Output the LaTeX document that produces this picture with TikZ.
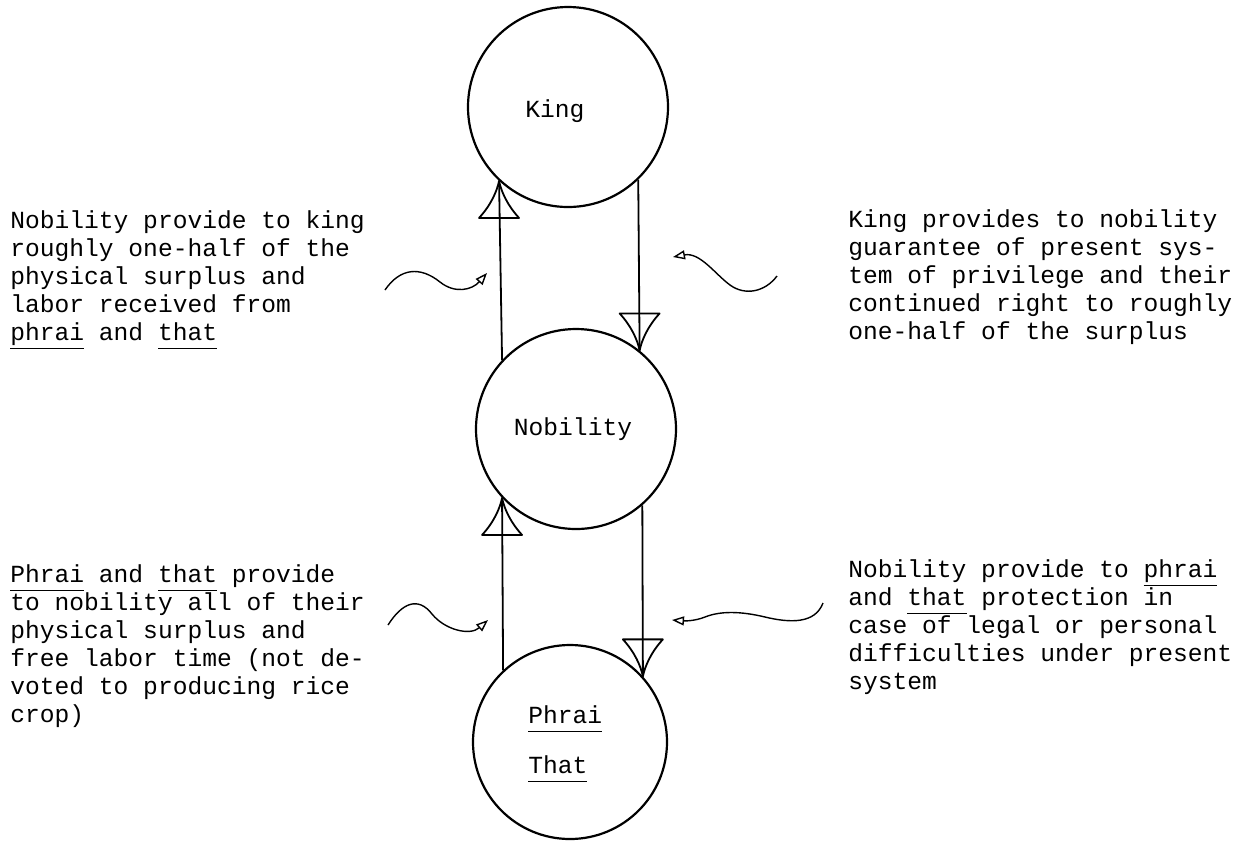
\documentclass[tikz,border=0pt]{standalone}
\usepackage{fontspec}
\setmainfont{Liberation Mono}
\usetikzlibrary{arrows.meta}
\newcommand\myul[1]{\setbox0\hbox{#1}\rlap{\rule[-4.5pt]{\wd0}{0.6pt}}\box0\relax}
\tikzset{
  circ/.style={circle, draw, line width=1.1pt, minimum size=100pt, inner sep=0pt},
  lbl/.style={inner sep=0pt, font=\fontsize{12.3}{14}\selectfont},
  flow/.style={line width=0.9pt},
  wavy/.style={line width=0.7pt, -{Triangle[open,length=6pt,width=4.5pt]}},
  funnel/.pic={\draw[line width=0.9pt, line join=round] (-20,-37) -- (20,-37) .. controls (8,-24) and (2,-10) .. (0,0) .. controls (-2,-10) and (-8,-24) .. (-20,-37) -- cycle;}
}
\begin{document}
\begin{tikzpicture}[x=0.5pt,y=-0.5pt]
\useasboundingbox (0,0) rectangle (1255,843);
% circles
\node[circ] (king) at (568,107) {};
\node[circ] (nob) at (576,429) {};
\node[circ, minimum size=97pt] (pt) at (570,742) {};
% circle texts
\node[lbl, anchor=base west] (kingtxt) at (525,117) {King};
\node[lbl, anchor=base] (nobtxt) at (573,435) {Nobility};
\node[lbl, anchor=base west] (phraitxt) at (528,723) {\myul{Phrai}};
\node[lbl, anchor=base west] (thattxt) at (528,773) {\myul{That}};
% flows
\draw[flow] (nob.137.7) -- (king.227.2);
\pic[rotate=180] at (king.227.2) {funnel};
\draw[flow] (king.314.4) -- (nob.51.7);
\pic at (nob.51.7) {funnel};
\draw[flow] (pt.133.6) -- (nob.223.1);
\pic[rotate=180] at (nob.223.1) {funnel};
\draw[flow] (nob.311.3) -- (pt.42.1);
\pic at (pt.42.1) {funnel};
% text blocks
\node[lbl, anchor=base west] (t1) at (10,228) {\vtop{%
  \hbox{Nobility provide to king}
  \hbox{roughly one-half of the}
  \hbox{physical surplus and}
  \hbox{labor received from}
  \hbox{\myul{phrai} and \myul{that}}}};
\node[lbl, anchor=base west] (t2) at (848,227) {\vtop{%
  \hbox{King provides to nobility}
  \hbox{guarantee of present sys-}
  \hbox{tem of privilege and their}
  \hbox{continued right to roughly}
  \hbox{one-half of the surplus}}};
\node[lbl, anchor=base west] (t3) at (10,582) {\vtop{%
  \hbox{\myul{Phrai} and \myul{that} provide}
  \hbox{to nobility all of their}
  \hbox{physical surplus and}
  \hbox{free labor time (not de-}
  \hbox{voted to producing rice}
  \hbox{crop)}}};
\node[lbl, anchor=base west] (t4) at (848,577) {\vtop{%
  \hbox{Nobility provide to \myul{phrai}}
  \hbox{and \myul{that} protection in}
  \hbox{case of legal or personal}
  \hbox{difficulties under present}
  \hbox{system}}};
% wavy pointers
\coordinate (w1s) at (385,290); \coordinate (w1e) at (487,273);
\draw[wavy] (w1s) .. controls (400,268) and (420,266) .. (440,282) .. controls (455,294) and (472,290) .. (w1e);
\coordinate (w2s) at (777,276); \coordinate (w2e) at (673,257);
\draw[wavy] (w2s) .. controls (765,292) and (745,296) .. (730,285) .. controls (715,274) and (700,252) .. (w2e);
\coordinate (w3s) at (388,625); \coordinate (w3e) at (488,620);
\draw[wavy] (w3s) .. controls (402,603) and (418,596) .. (432,614) .. controls (445,630) and (470,636) .. (w3e);
\coordinate (w4s) at (823,603); \coordinate (w4e) at (672,620);
\draw[wavy] (w4s) .. controls (815,624) and (790,623) .. (765,617) .. controls (740,611) and (720,611) .. (705,617) .. controls (695,621) and (685,621) .. (w4e);
\end{tikzpicture}
\end{document}
